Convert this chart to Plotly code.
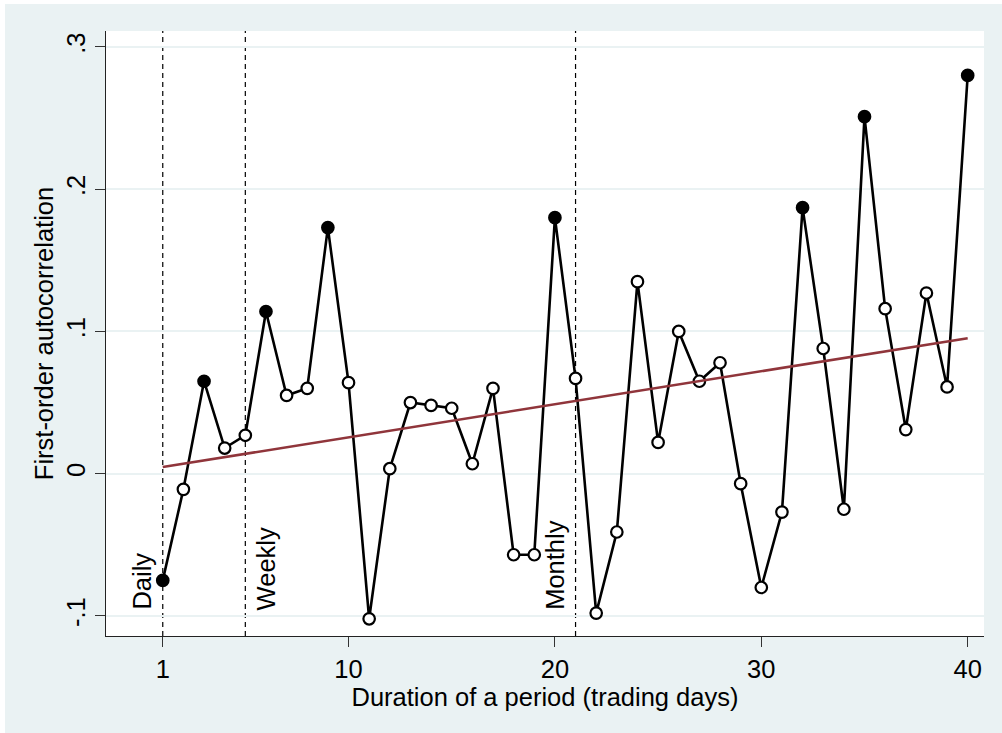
import numpy as np
import plotly.graph_objects as go

# ---- data ----
period = list(range(1, 41))
autocorr = [-0.075, -0.011, 0.065, 0.018, 0.027, 0.114, 0.055, 0.060, 0.173, 0.064,
            -0.102, 0.0035, 0.050, 0.048, 0.046, 0.007, 0.060, -0.057, -0.057, 0.180,
            0.067, -0.098, -0.041, 0.135, 0.022, 0.100, 0.065, 0.078, -0.007, -0.080,
            -0.027, 0.187, 0.088, -0.025, 0.251, 0.116, 0.031, 0.127, 0.061, 0.280]
significant = [1, 0, 1, 0, 0, 1, 0, 0, 1, 0,
               0, 0, 0, 0, 0, 0, 0, 0, 0, 1,
               0, 0, 0, 0, 0, 0, 0, 0, 0, 0,
               0, 1, 0, 0, 1, 0, 0, 0, 0, 1]
ref_lines = [1, 5, 21]
ref_labels = ["Daily", "Weekly", "Monthly"]
ref_label_x = [0, 6, 20]
x_ticks = [1, 10, 20, 30, 40]
y_ticks = [-0.1, 0, 0.1, 0.2, 0.3]
y_ticklabels = ["-.1", "0", ".1", ".2", ".3"]

BG = "#EAF2F3"
FONT = "Arial, Liberation Sans, sans-serif"

slope, intercept = np.polyfit(period, autocorr, 1)
fit_x = [min(period), max(period)]
fit_y = [intercept + slope * v for v in fit_x]

fig = go.Figure()
fig.add_trace(go.Scatter(
    x=period, y=autocorr, mode="lines+markers",
    line=dict(color="black", width=2.6),
    marker=dict(size=11.5, symbol="circle",
                color=["black" if s else "white" for s in significant],
                line=dict(color="black", width=2.2)),
    showlegend=False, hoverinfo="x+y"))
fig.add_trace(go.Scatter(
    x=fit_x, y=fit_y, mode="lines",
    line=dict(color="#90353B", width=2.6),
    showlegend=False))

shapes = [
    dict(type="rect", xref="paper", yref="paper", x0=-0.115, x1=1.03, y0=-0.17, y1=1.0446,
         fillcolor=BG, line=dict(width=0), layer="below"),
    dict(type="rect", xref="paper", yref="paper", x0=0, x1=1, y0=0, y1=1,
         fillcolor="white", line=dict(width=0), layer="below"),
]
for v in ref_lines:
    shapes.append(dict(type="line", xref="x", yref="paper", x0=v, x1=v, y0=0, y1=1,
                       line=dict(color="black", width=1.2, dash="5px,4px"), layer="below"))

annotations = []
for lab, lx in zip(ref_labels, ref_label_x):
    annotations.append(dict(x=lx, y=-0.1, xref="x", yref="y", text=lab, textangle=-90,
                            showarrow=False, xanchor="center", yanchor="bottom", yshift=4,
                            font=dict(size=25.5, color="black", family=FONT)))

fig.update_layout(
    width=1002, height=733,
    margin=dict(l=106, r=18, t=31, b=97),
    paper_bgcolor="white", plot_bgcolor="white",
    font=dict(family=FONT, size=25.5, color="black"),
    shapes=shapes, annotations=annotations,
    xaxis=dict(range=[-1.75, 40.79], tickvals=x_ticks, ticks="outside", ticklen=10,
               tickcolor="#333", tickwidth=1, showline=True, linecolor="#222", linewidth=1,
               showgrid=False, zeroline=False,
               tickfont=dict(size=25.5),
               title=dict(text="Duration of a period (trading days)", font=dict(size=25.5), standoff=0)),
    yaxis=dict(range=[-0.1141, 0.3112], tickvals=y_ticks, ticktext=y_ticklabels, tickangle=-90,
               ticks="outside", ticklen=10, tickcolor="#333", tickwidth=1,
               showline=True, linecolor="#222", linewidth=1,
               showgrid=True, gridcolor=BG, gridwidth=1.5, zeroline=False,
               tickfont=dict(size=25.5),
               title=dict(text="First-order autocorrelation", font=dict(size=25.5), standoff=0)),
)
fig.write_html("out.html")
